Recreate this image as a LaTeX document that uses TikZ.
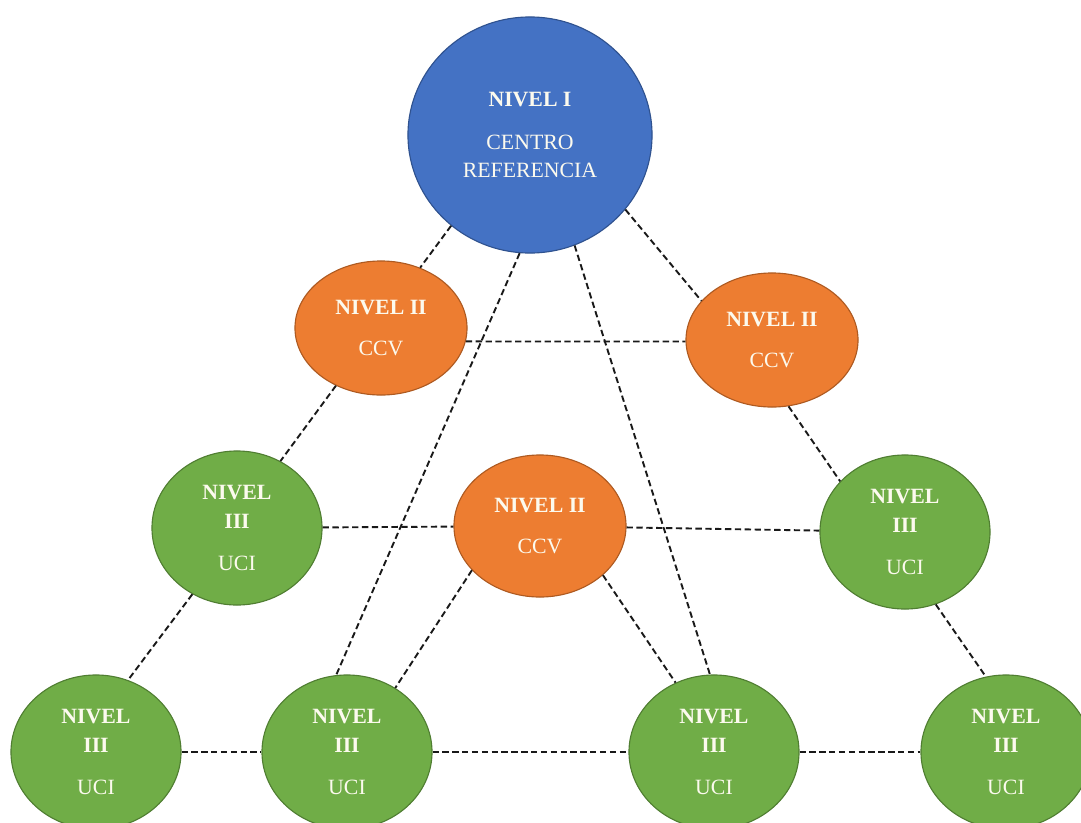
\documentclass[tikz,border=0pt]{standalone}
\usepackage{fontspec}
\setmainfont{Liberation Serif}
\usepackage{tikz}
\usetikzlibrary{calc,arrows.meta,shapes.geometric}
\definecolor{refblue}{RGB}{68,114,196}
\definecolor{refblueline}{RGB}{47,82,143}
\definecolor{ccvorange}{RGB}{237,125,49}
\definecolor{ccvorangeline}{RGB}{174,90,33}
\definecolor{ucigreen}{RGB}{112,173,71}
\definecolor{ucigreenline}{RGB}{80,126,50}
\definecolor{txtcream}{RGB}{252,250,238}
\tikzset{
  nivel/.style={ellipse, draw, line width=0.8pt, inner sep=0pt, align=center,
    text=txtcream, font=\fontsize{15.5}{20.5}\selectfont},
  centro/.style={nivel, fill=refblue, draw=refblueline, minimum width=6.1cm, minimum height=5.9cm},
  ccv/.style={nivel, fill=ccvorange, draw=ccvorangeline, minimum width=4.3cm, minimum height=3.35cm},
  uci/.style={nivel, fill=ucigreen, draw=ucigreenline, minimum width=4.25cm, minimum height=3.85cm},
  link/.style={draw=black!90, line width=1.35pt, dash pattern=on 4.5pt off 2.5pt}
}

\begin{document}
\begin{tikzpicture}[x=0.025cm,y=-0.025cm]
\useasboundingbox (0,0) rectangle (1081,823);
\def\nivelii{\textbf{NIVEL II}\\[9pt]CCV}
\def\niveliii{\textbf{NIVEL}\\\textbf{III}\\[10pt]UCI}
\node[centro] (n1) at (530,135) {\textbf{NIVEL I}\\[10pt]CENTRO\\REFERENCIA};
\node[ccv] (c1) at (381,328) {\nivelii};
\node[ccv] (c2) at (772,340) {\nivelii};
\node[ccv, minimum height=3.55cm] (c3) at (540,526) {\nivelii};
\node[uci] (u1) at (237,528) {\niveliii};
\node[uci] (u2) at (905,532) {\niveliii};
\node[uci] (u3) at (96,752) {\niveliii};
\node[uci] (u4) at (347,752) {\niveliii};
\node[uci] (u5) at (714,752) {\niveliii};
\node[uci] (u6) at (1006,752) {\niveliii};
% links from the centre
\draw[link] (n1.229) -- (c1.57);
\draw[link] (n1.322) -- (c2.151);
\draw[link] (n1.265) -- (u4.98);
\draw[link] (n1.292) -- (u5.93);
\draw[link] (c1.351) -- (c2.181);
\draw[link] (c1.232) -- (u1.57);
\draw[link] (c2.284) -- (u2.142);
\draw[link] (u1) -- (c3);
\draw[link] (c3) -- (u2);
\draw[link] (u1.236) -- (u3.66);
\draw[link] (c3.213) -- (u4.53);
\draw[link] (c3.322) -- (u5.119);
\draw[link] (u2.293) -- (u6.105);
% bottom row
\draw[link] (u3) -- (u4);
\draw[link] (u4) -- (u5);
\draw[link] (u5) -- (u6);
\end{tikzpicture}
\end{document}
